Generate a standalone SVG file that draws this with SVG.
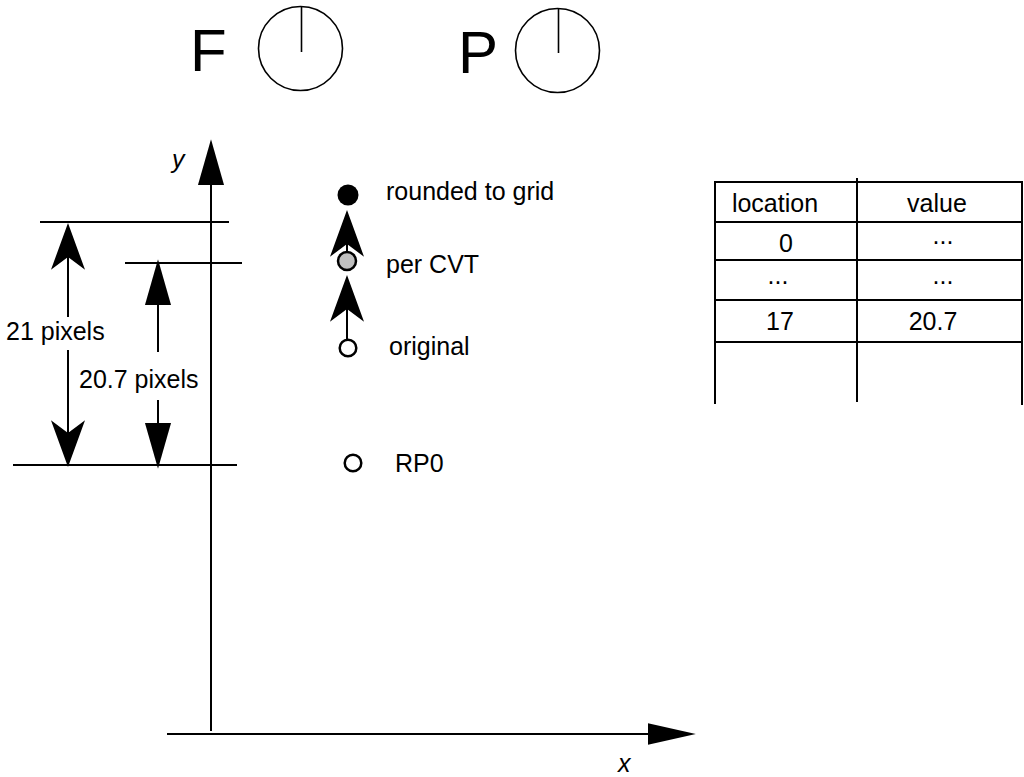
<svg xmlns="http://www.w3.org/2000/svg" width="1024" height="777" viewBox="0 0 1024 777">
<style>
  .t { font-family: "Liberation Sans", Arial, sans-serif; font-size: 25px; fill: #000; }
  .big { font-family: "Liberation Sans", Arial, sans-serif; font-size: 60px; fill: #000; }
  .it { font-style: italic; }
  .ln { stroke: #000; stroke-width: 2; fill: none; }
  .dial { stroke: #000; stroke-width: 1.6; fill: none; }
  .pt { stroke: #000; stroke-width: 2.5; }
  .mid { text-anchor: middle; }
</style>
<defs>
  <marker id="tri" markerUnits="userSpaceOnUse" orient="auto" refX="0" refY="0" markerWidth="50" markerHeight="30" viewBox="-1 -13 46 26" overflow="visible">
    <path d="M0,-12 L42,0 L0,12 Z" fill="#000"/>
  </marker>
  <marker id="triX" markerUnits="userSpaceOnUse" orient="auto" refX="0" refY="0" markerWidth="50" markerHeight="30" viewBox="-1 -11 46 22" overflow="visible">
    <path d="M0,-10 L44,0 L0,10 Z" fill="#000"/>
  </marker>
  <marker id="swt" markerUnits="userSpaceOnUse" orient="auto" refX="0" refY="0" markerWidth="50" markerHeight="40" viewBox="-13 -17 47 34" overflow="visible">
    <path d="M0,0 L-12,-16 L32,0 L-12,16 Z" fill="#000"/>
  </marker>
</defs>

<g id="dial-F">
  <text class="big" x="190" y="71">F</text>
  <circle class="dial" cx="300.5" cy="48.5" r="42"/>
  <line class="dial" x1="301.5" y1="6.5" x2="301.5" y2="52"/>
</g>
<g id="dial-P">
  <text class="big" x="458" y="73">P</text>
  <circle class="dial" cx="557.5" cy="50.5" r="42"/>
  <line class="dial" x1="558.5" y1="8.5" x2="558.5" y2="53"/>
</g>

<g id="axes">
  <line class="ln" x1="211" y1="731" x2="211" y2="185" marker-end="url(#tri)"/>
  <line class="ln" x1="167" y1="734" x2="648" y2="734" marker-end="url(#triX)"/>
  <text class="t it" x="172" y="168">y</text>
  <text class="t it" x="618" y="772">x</text>
</g>

<g id="levels">
  <line class="ln" x1="40" y1="222" x2="229" y2="222"/>
  <line class="ln" x1="125" y1="263" x2="242" y2="263"/>
  <line class="ln" x1="13" y1="465" x2="237" y2="465"/>
</g>

<g id="connectors">
  <line class="ln" x1="68" y1="317" x2="68" y2="257" marker-end="url(#swt)"/>
  <line class="ln" x1="68" y1="350" x2="68" y2="433" marker-end="url(#swt)"/>
  <line class="ln" x1="158" y1="352" x2="158" y2="305" marker-end="url(#tri)"/>
  <line class="ln" x1="158" y1="400" x2="158" y2="423" marker-end="url(#tri)"/>
  <line class="ln" x1="347" y1="252" x2="347" y2="244" marker-end="url(#swt)"/>
  <line class="ln" x1="347" y1="339" x2="347" y2="309" marker-end="url(#swt)"/>
</g>

<g id="dim-labels">
  <text class="t" x="6" y="340">21 pixels</text>
  <text class="t" x="79" y="388">20.7 pixels</text>
</g>

<g id="pt-rounded">
  <circle cx="348" cy="195" r="10.5" fill="#000"/>
  <text class="t" x="386" y="200">rounded to grid</text>
</g>
<g id="pt-cvt">
  <circle class="pt" cx="347" cy="261" r="9" fill="#c0c0c0"/>
  <text class="t" x="386" y="273">per CVT</text>
</g>
<g id="pt-original">
  <circle class="pt" cx="348" cy="348" r="8.3" fill="#fff"/>
  <text class="t" x="389" y="355">original</text>
</g>
<g id="pt-rp0">
  <circle class="pt" cx="353" cy="463" r="8.3" fill="#fff"/>
  <text class="t" x="395" y="472">RP0</text>
</g>

<g id="cvt-table">
  <line class="ln" x1="714" y1="182" x2="1023" y2="182"/>
  <line class="ln" x1="714" y1="222" x2="1023" y2="222"/>
  <line class="ln" x1="714" y1="260" x2="1023" y2="260"/>
  <line class="ln" x1="714" y1="300" x2="1023" y2="300"/>
  <line class="ln" x1="714" y1="342" x2="1023" y2="342"/>
  <line class="ln" x1="715" y1="181" x2="715" y2="404"/>
  <line class="ln" x1="857" y1="178" x2="857" y2="402"/>
  <line class="ln" x1="1022" y1="181" x2="1022" y2="405"/>
  <text class="t mid" x="775" y="212">location</text>
  <text class="t mid" x="937" y="212">value</text>
  <text class="t mid" x="786" y="252">0</text>
  <text class="t mid" x="943" y="244">...</text>
  <text class="t mid" x="778" y="284">...</text>
  <text class="t mid" x="943" y="284">...</text>
  <text class="t mid" x="780" y="330">17</text>
  <text class="t mid" x="933" y="330">20.7</text>
</g>
</svg>
